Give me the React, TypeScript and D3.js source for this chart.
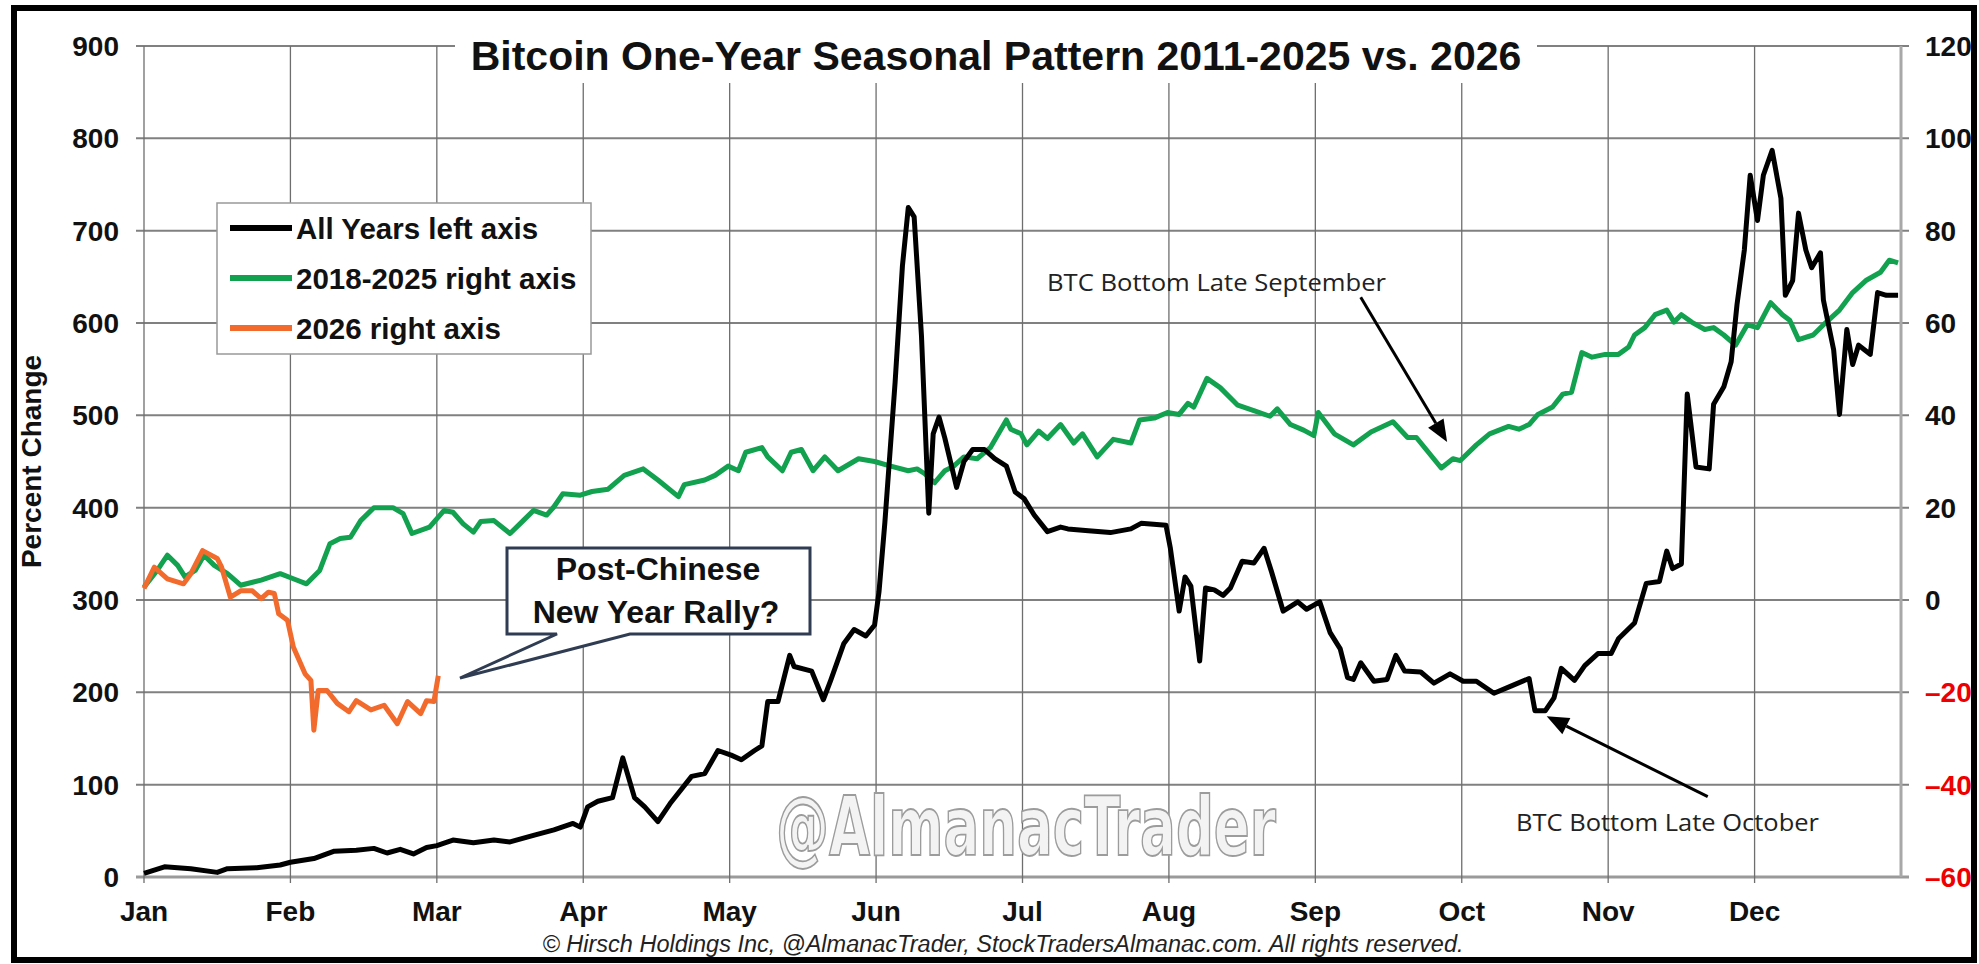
import React from 'react';
import * as d3 from 'd3';

// ---------- data ----------
const months = ['Jan', 'Feb', 'Mar', 'Apr', 'May', 'Jun', 'Jul', 'Aug', 'Sep', 'Oct', 'Nov', 'Dec'];
const leftTicks = [0, 100, 200, 300, 400, 500, 600, 700, 800, 900];
const rightTicks = [-60, -40, -20, 0, 20, 40, 60, 80, 100, 120];

// [month position (0 = Jan 1, 12 = Dec 31), percent change] — left axis
const allYears: [number, number][] = [
  [0, 4], [0.14, 11], [0.32, 9], [0.5, 5], [0.57, 9], [0.77, 10], [0.93, 13], [1.0, 16], [1.16, 20], [1.3, 28],
  [1.45, 29], [1.57, 31], [1.66, 26], [1.75, 30], [1.84, 25], [1.93, 32], [2.0, 34], [2.11, 40], [2.25, 37], [2.39, 40],
  [2.5, 38], [2.66, 45], [2.8, 51], [2.93, 58], [2.98, 54], [3.03, 76], [3.1, 82], [3.2, 86], [3.27, 129], [3.35, 86],
  [3.42, 76], [3.51, 60], [3.6, 81], [3.74, 109], [3.83, 112], [3.92, 137], [4.01, 132], [4.08, 127], [4.17, 137], [4.22, 142],
  [4.26, 190], [4.33, 190], [4.41, 240], [4.44, 228], [4.56, 223], [4.64, 192], [4.69, 213], [4.78, 253], [4.85, 268], [4.93, 261],
  [4.99, 273], [5.02, 309], [5.06, 384], [5.13, 536], [5.18, 662], [5.22, 725], [5.26, 715], [5.31, 586], [5.36, 394], [5.39, 480],
  [5.43, 498], [5.47, 475], [5.55, 422], [5.6, 450], [5.66, 463], [5.74, 463], [5.81, 453], [5.89, 445], [5.95, 417], [6.01, 410],
  [6.08, 392], [6.17, 374], [6.26, 379], [6.31, 377], [6.45, 375], [6.6, 373], [6.74, 377], [6.81, 383], [6.98, 381], [7.01, 356],
  [7.07, 288], [7.11, 325], [7.15, 315], [7.21, 234], [7.25, 313], [7.31, 311], [7.37, 305], [7.42, 313], [7.5, 342], [7.58, 340],
  [7.65, 356], [7.7, 331], [7.78, 288], [7.88, 298], [7.94, 290], [8.03, 298], [8.1, 265], [8.17, 247], [8.22, 216], [8.26, 214],
  [8.31, 232], [8.4, 212], [8.49, 214], [8.55, 240], [8.61, 223], [8.72, 222], [8.81, 210], [8.92, 220], [9.01, 212], [9.1, 212],
  [9.22, 199], [9.34, 207], [9.46, 215], [9.5, 180], [9.57, 180], [9.63, 194], [9.68, 226], [9.77, 213], [9.84, 229], [9.93, 242],
  [10.02, 242], [10.07, 258], [10.18, 275], [10.26, 318], [10.35, 320], [10.4, 353], [10.44, 334], [10.5, 339], [10.54, 523], [10.6, 444],
  [10.69, 442], [10.72, 512], [10.79, 531], [10.84, 558], [10.88, 620], [10.93, 679], [10.97, 760], [11.02, 711], [11.06, 760], [11.12, 787],
  [11.18, 735], [11.21, 630], [11.26, 646], [11.3, 719], [11.35, 679], [11.39, 660], [11.45, 676], [11.47, 625], [11.54, 571], [11.58, 501],
  [11.63, 593], [11.67, 555], [11.71, 576], [11.75, 571], [11.79, 566], [11.84, 633], [11.9, 630], [11.98, 630],
];

// right axis
const years2018to2025: [number, number][] = [
  [0, 2.8], [0.09, 6.4], [0.16, 9.7], [0.23, 7.5], [0.28, 5], [0.35, 6.4], [0.41, 9.7], [0.48, 7.5], [0.57, 5.7], [0.66, 3.2],
  [0.8, 4.3], [0.93, 5.7], [1.02, 4.6], [1.11, 3.5], [1.2, 6.4], [1.27, 12.2], [1.34, 13.3], [1.41, 13.6], [1.48, 17.2], [1.57, 20],
  [1.7, 20], [1.77, 18.7], [1.83, 14.4], [1.95, 15.8], [2.05, 19.4], [2.11, 19], [2.18, 16.5], [2.25, 14.7], [2.3, 17], [2.39, 17.2],
  [2.5, 14.4], [2.59, 17.2], [2.66, 19.4], [2.75, 18.4], [2.8, 20.2], [2.86, 23], [2.98, 22.7], [3.06, 23.5], [3.17, 24], [3.28, 27],
  [3.41, 28.4], [3.51, 26], [3.65, 22.4], [3.69, 25], [3.83, 26], [3.9, 27], [3.99, 29], [4.06, 28], [4.11, 32], [4.22, 33],
  [4.26, 31], [4.36, 28], [4.42, 32], [4.49, 32.6], [4.57, 28], [4.65, 31], [4.74, 28], [4.88, 30.6], [4.99, 30], [5.1, 29],
  [5.22, 28], [5.28, 28.4], [5.33, 27.4], [5.4, 25.4], [5.47, 28], [5.53, 29], [5.6, 31], [5.69, 30.6], [5.78, 33], [5.89, 39],
  [5.92, 37], [5.99, 36], [6.03, 33.6], [6.11, 36.6], [6.17, 35], [6.26, 38], [6.35, 34], [6.41, 36], [6.51, 31], [6.62, 34.8],
  [6.74, 34], [6.8, 39], [6.9, 39.4], [6.99, 40.6], [7.07, 40.2], [7.13, 42.6], [7.17, 41.8], [7.26, 48], [7.35, 46], [7.47, 42.2],
  [7.58, 41], [7.69, 39.8], [7.74, 41.4], [7.83, 38], [7.92, 36.8], [7.99, 35.6], [8.02, 40.6], [8.13, 36], [8.26, 33.6], [8.38, 36.4],
  [8.53, 38.6], [8.63, 35.2], [8.69, 35.2], [8.86, 28.6], [8.94, 30.6], [8.99, 30.2], [9.1, 33.6], [9.19, 36], [9.32, 37.6], [9.39, 37],
  [9.46, 38], [9.52, 40.2], [9.62, 41.8], [9.69, 44.6], [9.75, 45], [9.82, 53.6], [9.89, 52.6], [9.98, 53.2], [10.07, 53.2], [10.14, 54.8],
  [10.18, 57.4], [10.25, 59], [10.32, 61.8], [10.4, 62.8], [10.45, 60.2], [10.5, 61.8], [10.57, 60.2], [10.66, 58.6], [10.72, 59], [10.79, 57.4],
  [10.87, 55.2], [10.95, 59.6], [11.02, 59], [11.11, 64.4], [11.19, 61.8], [11.24, 60.6], [11.3, 56.4], [11.4, 57.4], [11.49, 60.2], [11.58, 62.8],
  [11.67, 66.6], [11.76, 69.2], [11.86, 71], [11.92, 73.6], [11.98, 73],
];

// right axis
const year2026: [number, number][] = [
  [0, 2.5], [0.07, 7.1], [0.11, 6], [0.16, 4.6], [0.27, 3.5], [0.32, 5.7], [0.4, 10.7], [0.5, 9], [0.53, 7.1], [0.59, 0.6],
  [0.66, 2], [0.74, 2], [0.8, 0.3], [0.85, 1.7], [0.89, 1.4], [0.92, -3], [0.98, -4.4], [1.02, -10.2], [1.1, -16], [1.14, -17.4],
  [1.16, -28.2], [1.19, -19.6], [1.25, -19.6], [1.32, -22.4], [1.4, -24.2], [1.45, -21.8], [1.55, -23.8], [1.64, -22.8], [1.73, -26.8], [1.8, -22],
  [1.89, -24.6], [1.93, -21.8], [1.98, -22], [2.01, -16.4],
];

const legendItems = [
  { label: 'All Years left axis', color: '#000000' },
  { label: '2018-2025 right axis', color: '#12a14f' },
  { label: '2026 right axis', color: '#f26a2c' },
];

// ---------- layout ----------
const W = 1979;
const H = 964;
const M = { left: 144, right: 1901, top: 46, bottom: 877 };

export default function App() {
  const x = d3.scaleLinear().domain([0, 12]).range([M.left, M.right]);
  const yL = d3.scaleLinear().domain([0, 900]).range([M.bottom, M.top]);
  const yR = d3.scaleLinear().domain([-60, 120]).range([M.bottom, M.top]);

  const lineL = d3.line<[number, number]>().x((d) => x(d[0])).y((d) => yL(d[1]));
  const lineR = d3.line<[number, number]>().x((d) => x(d[0])).y((d) => yR(d[1]));

  const bold = 'Liberation Sans, Arial, sans-serif';

  const arrow = (x1: number, y1: number, x2: number, y2: number, key: string) => {
    const ang = Math.atan2(y2 - y1, x2 - x1);
    const len = 22;
    const wid = 9;
    const bx = x2 - len * Math.cos(ang);
    const by = y2 - len * Math.sin(ang);
    const px = -Math.sin(ang) * wid;
    const py = Math.cos(ang) * wid;
    return (
      <g key={key}>
        <line x1={x1} y1={y1} x2={bx} y2={by} stroke="#000" strokeWidth={3} />
        <polygon points={`${x2},${y2} ${bx + px},${by + py} ${bx - px},${by - py}`} fill="#000" />
      </g>
    );
  };

  return (
    <svg
      width={W}
      height={H}
      viewBox={`0 0 ${W} ${H}`}
      style={{ position: 'absolute', left: 0, top: 0, background: '#fff' }}
    >
      <rect x={0} y={0} width={W} height={H} fill="#fff" />

      {/* horizontal gridlines */}
      {leftTicks.map((t) => (
        <line key={'h' + t} x1={M.left - 8} x2={M.right + 8} y1={yL(t)} y2={yL(t)}
          stroke={t === 0 ? '#9a9a9a' : '#808080'} strokeWidth={t === 0 ? 3 : 2} />
      ))}
      {/* vertical gridlines */}
      {d3.range(0, 12).map((i) => (
        <line key={'v' + i} x1={x(i)} x2={x(i)} y1={M.top} y2={M.bottom + 6} stroke="#6e6e6e" strokeWidth={1.3} />
      ))}
      <line x1={M.right} x2={M.right} y1={M.top} y2={M.bottom} stroke="#a8a8a8" strokeWidth={3} />

      {/* title backdrop + title */}
      <rect x={455} y={14} width={1082} height={69} fill="#fff" />
      <text x={996} y={70} textAnchor="middle" fontFamily={bold} fontWeight="bold" fontSize={41} fill="#111">
        Bitcoin One-Year Seasonal Pattern 2011-2025 vs. 2026
      </text>

      {/* watermark */}
      <text x={776} y={855} textLength={500} lengthAdjust="spacingAndGlyphs"
        fontFamily="DejaVu Sans Condensed, DejaVu Sans, sans-serif" fontWeight="bold" fontSize={82}
        fill="#f3f3f3" stroke="#9c9c9c" strokeWidth={1.8}>
        @AlmanacTrader
      </text>

      {/* left axis labels */}
      {leftTicks.map((t) => (
        <text key={'l' + t} x={119} y={yL(t) + 10} textAnchor="end" fontFamily={bold} fontWeight="bold" fontSize={28} fill="#111">
          {t}
        </text>
      ))}
      {/* right axis labels */}
      {rightTicks.map((t) => (
        <text key={'r' + t} x={1925} y={yR(t) + 10} textAnchor="start" fontFamily={bold} fontWeight="bold" fontSize={28}
          fill={t < 0 ? '#ee0000' : '#111'}>
          {t < 0 ? '\u2013' + Math.abs(t) : t}
        </text>
      ))}
      {/* month labels */}
      {months.map((m, i) => (
        <text key={m} x={x(i)} y={921} textAnchor="middle" fontFamily={bold} fontWeight="bold" fontSize={28} fill="#111">
          {m}
        </text>
      ))}
      <text transform={`translate(41,${(M.top + M.bottom) / 2}) rotate(-90)`} textAnchor="middle"
        fontFamily={bold} fontWeight="bold" fontSize={28} fill="#111">
        Percent Change
      </text>

      {/* legend */}
      <rect x={217} y={203} width={374} height={151} fill="#fff" stroke="#999" strokeWidth={1.5} />
      {legendItems.map((it, i) => (
        <g key={it.label}>
          <line x1={230} x2={292} y1={228 + i * 50} y2={228 + i * 50} stroke={it.color} strokeWidth={6} />
          <text x={296} y={238.5 + i * 50} fontFamily={bold} fontWeight="bold" fontSize={29.5} fill="#111">
            {it.label}
          </text>
        </g>
      ))}

      {/* series */}
      <path d={lineR(years2018to2025) || ''} fill="none" stroke="#12a14f" strokeWidth={5} strokeLinejoin="round" />
      <path d={lineL(allYears) || ''} fill="none" stroke="#000" strokeWidth={5} strokeLinejoin="round" />
      <path d={lineR(year2026) || ''} fill="none" stroke="#f26a2c" strokeWidth={5} strokeLinejoin="round" />

      {/* callout */}
      <path d="M507,548 H810 V634 H630 L460,678 L557,634 H507 Z" fill="#fff" stroke="#2f3c52" strokeWidth={3} strokeLinejoin="miter" />
      <text x={658} y={580} textAnchor="middle" fontFamily={bold} fontWeight="bold" fontSize={32} fill="#111">Post-Chinese</text>
      <text x={656} y={623} textAnchor="middle" fontFamily={bold} fontWeight="bold" fontSize={32} fill="#111">New Year Rally?</text>

      {/* annotations */}
      <text x={1047} y={291} textLength={339} lengthAdjust="spacingAndGlyphs" fontFamily="Open Sans, sans-serif" fontSize={24} fill="#222">
        BTC Bottom Late September
      </text>
      {arrow(x(8.31), yR(65.6), x(8.9), yR(34.2), 'a1')}
      <text x={1516} y={831} textLength={303} lengthAdjust="spacingAndGlyphs" fontFamily="Open Sans, sans-serif" fontSize={24} fill="#222">
        BTC Bottom Late October
      </text>
      {arrow(x(10.68), yL(87), x(9.58), yL(174), 'a2')}

      {/* footer */}
      <text x={1003} y={952} textAnchor="middle" fontFamily={bold} fontStyle="italic" fontSize={23.5} fill="#222">
        © Hirsch Holdings Inc, @AlmanacTrader, StockTradersAlmanac.com. All rights reserved.
      </text>

      {/* outer frame */}
      <rect x={14} y={8} width={1960} height={952} fill="none" stroke="#000" strokeWidth={6} />
    </svg>
  );
}
